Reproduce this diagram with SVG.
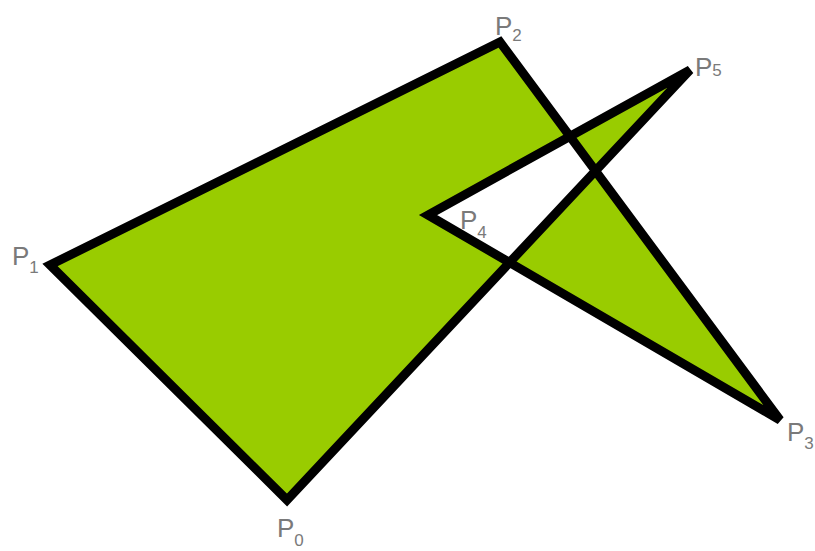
<svg xmlns="http://www.w3.org/2000/svg" width="815" height="551" viewBox="0 0 815 551">
<style>
.lbl{font-family:"Liberation Sans",Arial,sans-serif;font-size:26px;fill:#7a7a7a}
.sub{font-size:17px}
</style>
<rect width="815" height="551" fill="#fff"/>
<g id="connectors">
<path id="poly" d="M287,500 L50,265 L500,42 L780,420 L428,215 L690,70 Z" fill="#99cc00" fill-rule="evenodd" stroke="#000" stroke-width="9" stroke-linejoin="miter"/>
</g>
<g id="P0"><text class="lbl" x="277" y="537">P<tspan class="sub" dy="9">0</tspan></text></g>
<g id="P1"><text class="lbl" x="12" y="265">P<tspan class="sub" dy="8">1</tspan></text></g>
<g id="P2"><text class="lbl" x="495" y="35">P<tspan class="sub" dy="6">2</tspan></text></g>
<g id="P3"><text class="lbl" x="787" y="441">P<tspan class="sub" dy="8">3</tspan></text></g>
<g id="P4"><text class="lbl" x="460" y="229">P<tspan class="sub" dy="9">4</tspan></text></g>
<g id="P5"><text class="lbl" x="695" y="76">P<tspan class="sub" dy="0">5</tspan></text></g>
</svg>
